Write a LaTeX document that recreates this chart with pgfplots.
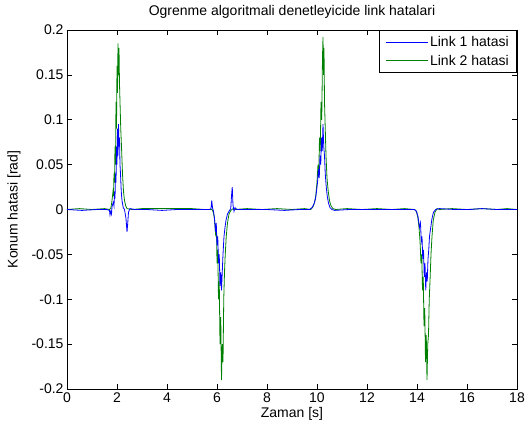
\documentclass[border=0pt]{standalone}
\usepackage{pgfplots}
\pgfplotsset{compat=1.18}
\usepackage{fontspec}
\setmainfont{Liberation Sans}
\definecolor{mblue}{rgb}{0,0,1}
\definecolor{mgreen}{rgb}{0,0.5,0}
\begin{document}
\begin{tikzpicture}
\begin{axis}[
  scale only axis,
  width=450pt, height=359pt,
  xmin=0, xmax=18, ymin=-0.2, ymax=0.2,
  xtick={0,2,...,18},
  ytick={-0.2,-0.15,-0.1,-0.05,0,0.05,0.1,0.15,0.2},
  yticklabels={-0.2,-0.15,-0.1,-0.05,0,0.05,0.1,0.15,0.2},
  /pgf/number format/assume math mode=true,
  tick align=inside,
  major tick length=5pt,
  tick style={black, line width=0.5pt},
  axis line style={line width=0.6pt},
  font=\fontsize{14}{16}\selectfont,
  every axis title shift=0pt,
  title={Ogrenme algoritmali denetleyicide link hatalari},
  title style={at={(axis description cs:0.5,1.05)}, anchor=center, font=\fontsize{14}{16}\selectfont},
  xlabel={Zaman [s]},
  ylabel={Konum hatasi [rad]},
  xlabel style={at={(axis description cs:0.5,-0.07)}, anchor=center, font=\fontsize{14}{16}\selectfont},
  ylabel style={at={(axis description cs:-0.118,0.5)}, anchor=center, font=\fontsize{14}{16}\selectfont},
  ticklabel style={font=\fontsize{14}{16}\selectfont},
  legend style={at={(1,1)}, anchor=north east, line width=0.6pt,
    font=\fontsize{14}{16}\selectfont, inner xsep=6pt, inner ysep=4pt,
    row sep=3pt, cells={anchor=west}},
  legend image code/.code={\draw[mark repeat=2,mark phase=2,#1] plot coordinates {(0pt,0pt) (21pt,0pt) (42pt,0pt)};},
]
% Link 2 (green), drawn underneath
\addplot[mgreen, line width=0.8pt, forget plot] coordinates {
(0,0) (0.5,0.001) (1.0,0) (1.5,0.001) (1.70,0) (1.76,0.002) (1.80,0.01) (1.84,0.02) (1.86,0.015) (1.88,0.04) (1.90,0.03) (1.92,0.07) (1.94,0.05) (1.96,0.12) (1.98,0.09) (2.00,0.16) (2.02,0.13) (2.04,0.185) (2.06,0.15) (2.08,0.18) (2.10,0.14) (2.12,0.12) (2.15,0.09) (2.18,0.07) (2.22,0.04) (2.26,0.02) (2.30,0.01) (2.35,0.004) (2.40,0.001)
(2.6,0) (3.0,0.001) (3.5,0.001) (4.0,0.001) (4.5,0.001) (5.0,0.001) (5.5,0) (5.80,0) (5.85,-0.003) (5.90,-0.01) (5.95,-0.03) (5.98,-0.02) (6.00,-0.06) (6.03,-0.045) (6.06,-0.1) (6.09,-0.08) (6.12,-0.15) (6.15,-0.12) (6.18,-0.19) (6.21,-0.15) (6.24,-0.17) (6.27,-0.1) (6.30,-0.07) (6.33,-0.05) (6.37,-0.03) (6.42,-0.015) (6.48,-0.005) (6.55,-0.001) (6.65,0.001)
(6.7,0) (7.2,0.001) (7.8,0) (8.4,0.001) (9.0,0) (9.5,0.001) (9.75,0) (9.84,0.003) (9.90,0.008) (9.95,0.015) (10.00,0.03) (10.04,0.05) (10.07,0.04) (10.10,0.08) (10.13,0.065) (10.16,0.12) (10.19,0.1) (10.22,0.17) (10.24,0.192) (10.26,0.15) (10.28,0.18) (10.30,0.12) (10.33,0.09) (10.36,0.06) (10.40,0.035) (10.45,0.02) (10.50,0.01) (10.56,0.004) (10.64,0.001)
(10.75,0) (11.2,0.001) (11.8,0) (12.4,0.001) (13.0,0) (13.5,0.001) (13.90,0) (13.97,-0.002) (14.03,-0.008) (14.08,-0.02) (14.12,-0.035) (14.16,-0.06) (14.19,-0.05) (14.22,-0.09) (14.25,-0.075) (14.28,-0.13) (14.31,-0.11) (14.34,-0.17) (14.37,-0.14) (14.40,-0.19) (14.43,-0.15) (14.46,-0.14) (14.49,-0.1) (14.52,-0.08) (14.56,-0.05) (14.60,-0.03) (14.65,-0.012) (14.72,-0.003) (14.80,0.001)
(14.9,0) (15.4,0.001) (16.0,0) (16.6,0.001) (17.2,0) (17.6,0.001) (18,0)
};
% Link 1 (blue)
\addplot[mblue, line width=0.8pt, forget plot] coordinates {
(0,0) (0.6,-0.001) (1.2,0) (1.60,0) (1.70,-0.001) (1.72,-0.006) (1.75,-0.002) (1.78,-0.005) (1.80,0.003) (1.85,0.008) (1.88,0.004) (1.90,0.02) (1.92,0.012) (1.94,0.04) (1.96,0.03) (1.98,0.07) (2.00,0.05) (2.02,0.09) (2.04,0.06) (2.06,0.095) (2.08,0.07) (2.10,0.08) (2.12,0.05) (2.14,0.04) (2.17,0.02) (2.20,0.01) (2.25,0.002) (2.30,0) (2.36,-0.01) (2.40,-0.025) (2.43,-0.015) (2.46,-0.003) (2.52,0.001)
(2.7,0) (3.2,0) (3.8,-0.001) (4.4,0) (5.0,0) (5.5,0) (5.70,0) (5.76,0.001) (5.79,0.01) (5.82,0.002) (5.86,-0.002) (5.90,-0.01) (5.94,-0.025) (5.97,-0.015) (6.00,-0.04) (6.03,-0.03) (6.06,-0.06) (6.09,-0.05) (6.12,-0.085) (6.15,-0.07) (6.18,-0.09) (6.21,-0.07) (6.24,-0.05) (6.28,-0.03) (6.32,-0.02) (6.36,-0.012) (6.42,-0.005) (6.48,-0.002) (6.55,0.001) (6.58,0.015) (6.61,0.025) (6.64,0.005) (6.68,-0.002) (6.72,0.002)
(6.8,0) (7.4,0) (8.0,0) (8.7,-0.001) (9.3,0) (9.70,0) (9.80,0.002) (9.88,0.006) (9.94,0.012) (9.98,0.02) (10.02,0.03) (10.06,0.045) (10.09,0.035) (10.12,0.06) (10.15,0.05) (10.18,0.08) (10.21,0.065) (10.24,0.095) (10.27,0.07) (10.30,0.06) (10.33,0.04) (10.37,0.025) (10.41,0.015) (10.46,0.007) (10.52,0.002) (10.60,0)
(10.7,-0.001) (11.3,0) (12.0,0) (12.6,0) (13.2,0) (13.90,0) (13.98,-0.002) (14.04,-0.008) (14.10,-0.02) (14.14,-0.015) (14.17,-0.035) (14.20,-0.03) (14.23,-0.055) (14.26,-0.045) (14.29,-0.075) (14.32,-0.06) (14.35,-0.09) (14.38,-0.07) (14.41,-0.08) (14.44,-0.055) (14.47,-0.045) (14.50,-0.03) (14.55,-0.02) (14.60,-0.01) (14.66,-0.003) (14.75,0)
(14.9,0.001) (15.5,0) (16.1,0) (16.6,0.001) (17.2,0) (18,0)
};
\addlegendimage{mblue, line width=0.8pt}
\addlegendentry{Link 1 hatasi}
\addlegendimage{mgreen, line width=0.8pt}
\addlegendentry{Link 2 hatasi}
\end{axis}
\pgfresetboundingbox
\path (-67pt,-36pt) rectangle (458pt,389pt);
\end{tikzpicture}
\end{document}
